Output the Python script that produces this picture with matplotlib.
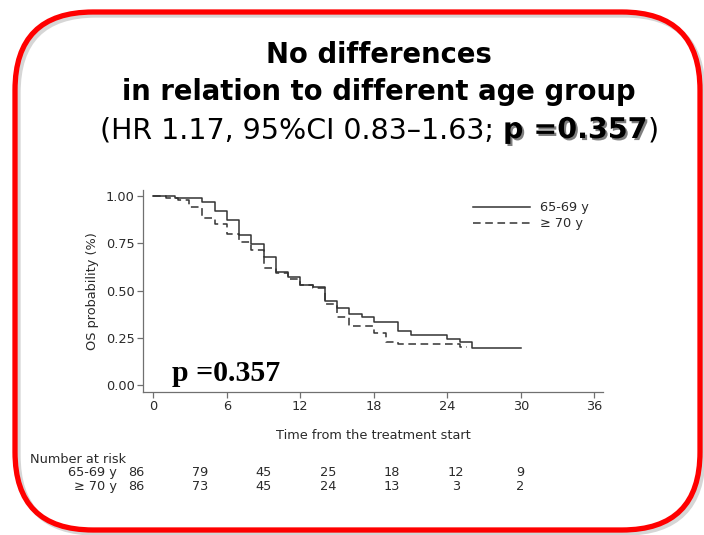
import matplotlib
matplotlib.use('Agg')
import matplotlib.pyplot as plt
from matplotlib.patches import FancyBboxPatch
from matplotlib.transforms import blended_transform_factory
from matplotlib.lines import Line2D
import matplotlib.patheffects as pe

W, H, DPI = 704, 535, 100

# ---- data ----
time_6569 = [0, 1.8, 4, 5, 6, 7, 8, 9, 10, 11, 12, 13, 14, 15, 16, 17, 18, 20, 21, 24, 25, 26, 30]
surv_6569 = [1.0, 0.989, 0.968, 0.918, 0.873, 0.792, 0.745, 0.675, 0.600, 0.573, 0.529, 0.517,
             0.446, 0.406, 0.378, 0.361, 0.334, 0.285, 0.262, 0.246, 0.229, 0.198, 0.198]
time_70 = [0, 1, 2, 2.9, 4, 5, 6, 7, 8, 9, 10, 11, 12, 13, 14, 15, 16, 18, 19, 20, 25, 25.6]
surv_70 = [1.0, 0.99, 0.979, 0.943, 0.882, 0.85, 0.80, 0.758, 0.714, 0.617, 0.591, 0.559,
           0.529, 0.515, 0.428, 0.361, 0.312, 0.275, 0.229, 0.217, 0.203, 0.203]
group_labels = ["65-69 y", "\u2265 70 y"]
x_ticks = [0, 6, 12, 18, 24, 30, 36]
y_ticks = [0.0, 0.25, 0.50, 0.75, 1.00]
y_tick_labels = ["0.00", "0.25", "0.50", "0.75", "1.00"]
risk_times = [0, 6, 12, 18, 24, 30, 36]
risk_6569 = [86, 79, 45, 25, 18, 12, 9]
risk_70 = [86, 73, 45, 24, 13, 3, 2]
title_line1 = "No differences"
title_line2 = "in relation to different age group"
title_line3 = [("(HR 1.17, 95%CI 0.83\u20131.63; ", "normal"), ("p =0.357", "bold"), (")", "normal")]
p_text = "p =0.357"

TXT = "#2a2a2a"
AXC = "#707070"
CURVE = "#333333"
SANS = ["DejaVu Sans"]
TITLEF = ["DejaVu Sans"]
FS = 9.3

fig = plt.figure(figsize=(W / DPI, H / DPI), dpi=DPI)
fig.patch.set_facecolor("white")

def px(x, y):
    return x / W, 1 - y / H

# ---- rounded red frame with shadow ----
fl, fr, ft, fb = 15, 700, 12, 530
rad = 78
for dx, dy, col, lw, a in [(3, 3, "#999999", 3.8, 0.4), (0, 0, "#ff0000", 3.8, 1.0)]:
    patch = FancyBboxPatch(((fl + dx) / DPI, (H - fb - dy) / DPI), (fr - fl) / DPI, (fb - ft) / DPI,
                           boxstyle=f"round,pad=0,rounding_size={rad / DPI}",
                           transform=fig.dpi_scale_trans, facecolor="none",
                           edgecolor=col, linewidth=lw, alpha=a, zorder=0)
    fig.add_artist(patch)

renderer = fig.canvas.get_renderer()

def text_width(t):
    return t.get_window_extent(renderer=renderer).width

# ---- title ----
def fit_center(s, cx, yb, target_w, weight, family):
    t = fig.text(*px(cx, yb), s, ha="center", va="baseline", fontsize=20,
                 fontweight=weight, family=family, color="black")
    w = text_width(t)
    t.set_fontsize(20 * target_w / w)
    return t.get_fontsize()

fs2 = fit_center(title_line2, 378.5, 100, 517, "bold", TITLEF)
fig.text(*px(379, 63), title_line1, ha="center", va="baseline", fontsize=fs2,
         fontweight="bold", family=TITLEF, color="black")

parts = []
for s, wgt in title_line3:
    t = fig.text(0, 0, s, ha="left", va="baseline", fontsize=20, fontweight=wgt,
                 family=TITLEF, color="black")
    parts.append(t)
tot = sum(text_width(t) for t in parts)
scale = 560 / tot
for t in parts:
    t.set_fontsize(20 * scale)
xcur = 380 - 560 / 2
for t, (s, wgt) in zip(parts, title_line3):
    t.set_position(px(xcur, 138))
    if wgt == "bold":
        t.set_path_effects([pe.SimplePatchShadow(offset=(1.5, -1.5), alpha=0.5), pe.Normal()])
    xcur += text_width(t)

# ---- KM axes ----
ax_l, ax_r, ax_t, ax_b = 143, 603, 190, 392
ax = fig.add_axes([ax_l / W, 1 - ax_b / H, (ax_r - ax_l) / W, (ax_b - ax_t) / H])
x0_px, x_per = 153.3, 12.25
y0_px, y_per = 385, 189
ax.set_xlim((ax_l - x0_px) / x_per, (ax_r - x0_px) / x_per)
ax.set_ylim((y0_px - ax_b) / y_per, (y0_px - ax_t) / y_per)

ax.step(time_6569, surv_6569, where="post", color=CURVE, lw=1.1)
ax.step(time_70, surv_70, where="post", color=CURVE, lw=1.1, linestyle=(0, (5, 3)))

for s in ["top", "right"]:
    ax.spines[s].set_visible(False)
for s in ["left", "bottom"]:
    ax.spines[s].set_color(AXC)
    ax.spines[s].set_linewidth(0.9)
ax.set_xticks(x_ticks)
ax.set_xticklabels([str(v) for v in x_ticks])
ax.set_yticks(y_ticks)
ax.set_yticklabels(y_tick_labels)
ax.tick_params(axis="both", colors=AXC, labelcolor=TXT, labelsize=FS, length=4, width=0.9, pad=2)
for lab in ax.get_xticklabels() + ax.get_yticklabels():
    lab.set_family(SANS)
ax.set_ylabel("OS probability (%)", fontsize=FS, family=SANS, color=TXT, labelpad=5)
ax.set_xlabel("Time from the treatment start", fontsize=FS, family=SANS, color=TXT, labelpad=11)

handles = [Line2D([], [], color=CURVE, lw=1.1),
           Line2D([], [], color=CURVE, lw=1.1, linestyle=(0, (5, 3)))]
leg = ax.legend(handles, group_labels, loc="upper left", bbox_to_anchor=px(467, 195),
                bbox_transform=fig.transFigure, frameon=False, handlelength=4.4,
                handletextpad=0.75, labelspacing=0.2, borderpad=0,
                prop={"family": SANS, "size": FS})
for t in leg.get_texts():
    t.set_color(TXT)

ax.text(*px(172, 381), p_text, transform=fig.transFigure, ha="left", va="baseline",
        fontsize=21.5, fontweight="bold", family=["Liberation Serif", "DejaVu Serif"], color="black")

# ---- number at risk table ----
ax_risk = fig.add_axes([136 / W, 0.0, (520 - 136) / W, 0.01])
ax_risk.set_xlim(0, 36)
ax_risk.axis("off")
bt = blended_transform_factory(ax_risk.transData, fig.transFigure)
fig.text(*px(30, 463), "Number at risk", ha="left", va="baseline", fontsize=FS,
         family=SANS, color=TXT)
for row_y, lab, vals in [(476, group_labels[0], risk_6569), (490, group_labels[1], risk_70)]:
    fig.text(*px(117, row_y), lab, ha="right", va="baseline", fontsize=FS,
             family=SANS, color=TXT)
    for t, v in zip(risk_times, vals):
        ax_risk.text(t, 1 - row_y / H, str(v), transform=bt, ha="center", va="baseline",
                     fontsize=FS, family=SANS, color=TXT)

fig.savefig("out.png", dpi=DPI, facecolor="white")
